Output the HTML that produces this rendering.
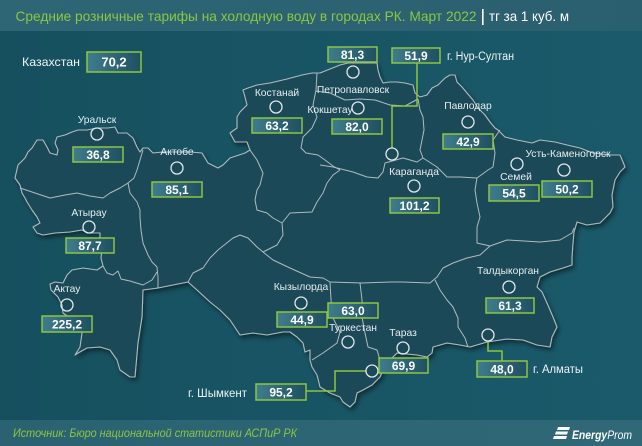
<!DOCTYPE html>
<html><head><meta charset="utf-8"><style>
html,body{margin:0;padding:0;background:#175565;}
svg{display:block}
</style></head><body>
<svg width="642" height="446" viewBox="0 0 642 446" xmlns="http://www.w3.org/2000/svg" font-family="'Liberation Sans', sans-serif">
<defs>
<linearGradient id="bg" x1="0" y1="0" x2="1" y2="0">
<stop offset="0" stop-color="#16505f"/><stop offset="1" stop-color="#1a5a6a"/>
</linearGradient>
<linearGradient id="hd" x1="0" y1="0" x2="1" y2="0">
<stop offset="0" stop-color="#2e6676"/><stop offset="1" stop-color="#2a5f6f"/>
</linearGradient>
<linearGradient id="ft" x1="0" y1="0" x2="1" y2="0">
<stop offset="0" stop-color="#2b6272"/><stop offset="1" stop-color="#306878"/>
</linearGradient>
<linearGradient id="bx" x1="0" y1="0" x2="1" y2="0">
<stop offset="0" stop-color="#3f7d8c"/><stop offset="1" stop-color="#1e5061"/>
</linearGradient>
<filter id="sh" x="-5%" y="-5%" width="110%" height="115%">
<feDropShadow dx="2" dy="3" stdDeviation="2.5" flood-color="#000" flood-opacity="0.45"/>
</filter>
</defs>
<rect width="642" height="446" fill="url(#bg)"/>
<rect width="642" height="31" fill="url(#hd)"/>
<rect y="420" width="642" height="26" fill="url(#ft)"/>

<!-- Map -->
<polygon filter="url(#sh)" fill="#1f4a58" stroke="#aebbbf" stroke-width="1.1" stroke-linejoin="round" points="15,178 18,165 25,158 28,152 32,148 37,140 43,140 47,147 50,153 57,155 58,150 55,143 57,137 65,135 72,132 78,130 87,130 97,128 108,128 115,127 118,133 127,133 133,138 137,147 140,152 143,148 148,148 153,153 163,152 177,152 190,152 202,153 208,163 218,168 223,165 230,158 245,153 250,150 247,142 235,142 230,133 237,128 237,117 240,112 247,105 245,97 243,90 248,88 257,85 270,83 287,79 302,75 312,73 320,73 330,69 340,65 348,63 360,63 377,63 378,70 380,77 383,83 390,82 397,82 405,83 413,85 415,93 420,97 427,95 432,88 438,85 445,78 450,75 455,75 457,82 462,87 467,93 473,100 478,108 485,115 490,122 495,128 498,130 505,137 517,140 532,143 540,140 555,142 567,145 580,148 593,153 610,155 620,155 623,162 625,167 620,172 615,180 612,195 613,207 610,213 600,223 587,225 577,222 574,232 573,243 572,257 572,265 563,268 550,272 540,277 537,287 542,292 547,303 553,317 557,327 552,337 550,347 537,345 523,340 507,339 487,342 470,347 460,345 447,343 440,345 433,347 432,353 427,357 417,355 397,353 392,358 385,362 383,370 380,377 372,385 363,390 357,393 355,402 350,407 343,402 340,397 330,393 320,387 317,375 312,367 310,360 310,350 305,352 303,343 297,337 290,332 283,332 267,335 253,333 240,335 230,320 220,310 210,302 197,290 188,282 158,288 143,290 142,317 138,343 135,377 130,377 120,370 117,360 110,350 100,347 87,348 78,353 75,355 80,347 82,333 80,322 70,318 63,313 62,305 58,297 51,290 50,284 55,282 63,283 67,275 72,270 83,268 97,270 103,266 101,258 102,250 100,240 100,233 88,233 82,230 70,232 55,233 43,235 37,233 33,227 40,223 37,217 32,210 27,202 25,198 22,193 20,185"/>

<!-- internal borders -->
<g fill="none" stroke="#aebbbf" stroke-width="1" stroke-linejoin="round">
<polyline points="20,188 35,193 50,198 65,195 77,193 90,196 103,198 110,193 120,188 128,183 134,178 137,170 140,160 143,150"/>
<polyline points="128,183 130,193 137,202 140,210 140,217 141,230 143,243 148,255 152,262 157,267 158,277 158,288"/>
<polyline points="103,266 107,273 113,275 118,271 121,279 130,281 143,285 152,280 157,272"/>
<polyline points="250,150 257,160 263,173 260,185 257,190 255,200 257,210 267,213 273,218 282,223"/>
<polyline points="188,282 193,273 203,268 210,258 218,250 233,238 240,235 248,238 257,247 263,252 277,245 283,235 282,223"/>
<polyline points="263,252 273,260 290,268 310,277 323,278 330,282 362,283 390,282 403,282 430,283 437,277 443,268 453,263 467,258 480,255 490,246"/>
<polyline points="282,223 290,213 312,212 317,202 323,193 327,183 333,175 340,170"/>
<polyline points="317,73 316,90 313,105 317,117 312,128 303,137 301,148 306,153 318,155 325,160 333,166 340,170"/>
<polyline points="320,165 333,167 353,172 367,177 378,178 383,172 385,163 403,158 417,162 423,158"/>
<polyline points="316,91 330,93 345,100 360,99 375,100 390,105 405,106 418,99"/>
<polyline points="418,99 420,110 423,117 424,130 422,140 420,150 423,158 437,167 447,177 460,177 477,178 488,170 493,167 495,153 493,140 500,130"/>
<polyline points="477,178 475,190 477,203 480,217 477,227 477,243 490,246 507,240 540,242 560,240 572,233 574,228"/>
<polyline points="360,283 362,300 362,317 365,333 368,347 377,350 380,360 383,370"/>
<polyline points="435,280 440,290 447,300 453,307 458,318 458,327 465,338 468,347"/>
<polyline points="330,282 331,300 333,318 340,332 337,343 323,353 312,360"/>
</g>

<!-- connectors -->
<g fill="none" stroke="#8dc63f" stroke-width="1.5">
<polyline points="417,63 417,106 392,106 392,148"/>
<polyline points="306,391 335,391 335,371 366,371"/>
<polyline points="488,341 488,351 502,351 502,361"/>
</g>

<!-- circles -->
<g fill="none" stroke="#dfe8ea" stroke-width="1.3">
<circle cx="97" cy="134" r="6"/><circle cx="177" cy="168" r="6"/><circle cx="89" cy="227" r="6"/>
<circle cx="67" cy="305" r="6"/><circle cx="276" cy="107" r="6"/><circle cx="353" cy="72" r="6"/>
<circle cx="358" cy="108" r="6"/><circle cx="392" cy="154" r="6"/><circle cx="468" cy="122" r="6"/>
<circle cx="414" cy="186" r="6"/><circle cx="517" cy="164" r="6"/><circle cx="564" cy="170" r="6"/>
<circle cx="301" cy="303" r="6"/><circle cx="348" cy="342" r="6"/><circle cx="372" cy="371" r="6"/>
<circle cx="403" cy="348" r="6"/><circle cx="509" cy="287" r="6"/><circle cx="488" cy="335" r="6"/>
</g>

<!-- city labels -->
<g fill="#e6edef" font-size="10.3" text-anchor="middle">
<text x="97" y="123">Уральск</text>
<text x="177" y="155">Актобе</text>
<text x="89" y="216">Атырау</text>
<text x="67" y="292">Актау</text>
<text x="277" y="96">Костанай</text>
<text x="353" y="93">Петропавловск</text>
<text x="330" y="113">Кокшетау</text>
<text x="468" y="109">Павлодар</text>
<text x="414" y="175">Караганда</text>
<text x="516" y="180">Семей</text>
<text x="568" y="157">Усть-Каменогорск</text>
<text x="301" y="290">Кызылорда</text>
<text x="353" y="331">Туркестан</text>
<text x="403" y="336">Тараз</text>
<text x="508" y="274">Талдыкорган</text>
</g>
<g fill="#eef3f4" font-size="12">
<text x="22" y="66" textLength="58" lengthAdjust="spacingAndGlyphs">Казахстан</text>
<text x="447" y="60" font-size="11.5" textLength="67" lengthAdjust="spacingAndGlyphs">г. Нур-Султан</text>
<text x="188" y="397" textLength="59" lengthAdjust="spacingAndGlyphs">г. Шымкент</text>
<text x="533" y="373" textLength="50" lengthAdjust="spacingAndGlyphs">г. Алматы</text>
</g>

<!-- value boxes -->
<g stroke="#8dc63f" stroke-width="1.5" fill="url(#bx)">
<rect x="87" y="52" width="54" height="20"/>
<rect x="328" y="47" width="49" height="15"/>
<rect x="392" y="48" width="48" height="15"/>
<rect x="252" y="118" width="50" height="15"/>
<rect x="332" y="119" width="50" height="15"/>
<rect x="443" y="134" width="50" height="15"/>
<rect x="73" y="147" width="50" height="15"/>
<rect x="152" y="182" width="50" height="15"/>
<rect x="390" y="198" width="49" height="15"/>
<rect x="489" y="185" width="50" height="16"/>
<rect x="542" y="181" width="50" height="16"/>
<rect x="66" y="238" width="48" height="15"/>
<rect x="42" y="316" width="50" height="16"/>
<rect x="277" y="312" width="50" height="15"/>
<rect x="328" y="303" width="50" height="15"/>
<rect x="486" y="298" width="48" height="15"/>
<rect x="379" y="358" width="49" height="15"/>
<rect x="256" y="384" width="50" height="16"/>
<rect x="477" y="361" width="50" height="16"/>
</g>
<g fill="#ffffff" font-size="12" font-weight="bold" text-anchor="middle">
<text x="114" y="66.5" font-size="13">70,2</text>
<text x="352.5" y="59">81,3</text>
<text x="416" y="60">51,9</text>
<text x="277" y="130">63,2</text>
<text x="357" y="131">82,0</text>
<text x="468" y="146">42,9</text>
<text x="98" y="159">36,8</text>
<text x="177" y="194">85,1</text>
<text x="414.5" y="210">101,2</text>
<text x="514" y="197.5">54,5</text>
<text x="567" y="193.5">50,2</text>
<text x="90" y="250">87,7</text>
<text x="67" y="328.5">225,2</text>
<text x="302" y="324">44,9</text>
<text x="353" y="315">63,0</text>
<text x="510" y="310">61,3</text>
<text x="403.5" y="370">69,9</text>
<text x="281" y="396.5">95,2</text>
<text x="502" y="373.5">48,0</text>
</g>

<!-- header -->
<text x="15.5" y="21" fill="#8dc63f" font-size="14" textLength="461" lengthAdjust="spacingAndGlyphs">Средние розничные тарифы на холодную воду в городах РК. Март 2022</text>
<rect x="482" y="9" width="1.6" height="16" fill="#ffffff"/>
<text x="489" y="21" fill="#ffffff" font-size="14" textLength="80" lengthAdjust="spacingAndGlyphs">тг за 1 куб. м</text>

<!-- footer -->
<text x="13" y="437" fill="#8dc63f" font-size="12" font-style="italic" textLength="284" lengthAdjust="spacingAndGlyphs">Источник: Бюро национальной статистики АСПиР РК</text>
<g fill="#ffffff">
<polygon points="558,427 570,427 569,430 557,430"/>
<polygon points="556,431.5 568,431.5 567,434.5 555,434.5"/>
<polygon points="554,436 567,436 566,439 553,439"/>
</g>
<text x="572" y="439" fill="#ffffff" font-size="11.5" font-style="italic" textLength="60" lengthAdjust="spacingAndGlyphs"><tspan font-weight="bold">Energy</tspan><tspan>Prom</tspan></text>
</svg>
</body></html>
